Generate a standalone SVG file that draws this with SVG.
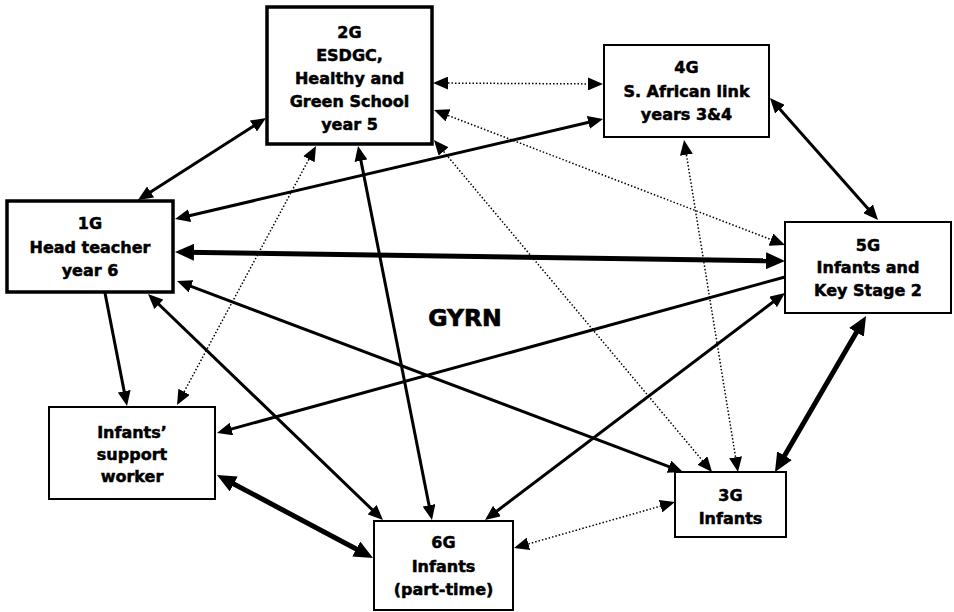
<svg xmlns="http://www.w3.org/2000/svg" width="954" height="612" viewBox="0 0 954 612">
<style>
.box{fill:#fff;stroke:#000;stroke-width:2}
.bold{stroke-width:3.5}
.t{font-family:"DejaVu Sans","Liberation Sans",sans-serif;font-weight:bold;font-size:16px;fill:#000;stroke:#000;stroke-width:0.5;text-anchor:middle}
.big{font-size:23.5px;stroke-width:0.7}
.c{stroke:#000;fill:none;stroke-width:3}
.thick{stroke-width:5}
.dot{stroke-width:1.5;stroke-dasharray:1.5 2}
.a{marker-start:url(#ah);marker-end:url(#ah)}
.e{marker-end:url(#ah)}
.A{marker-start:url(#AH);marker-end:url(#AH)}
</style>
<defs>
<marker id="ah" markerUnits="userSpaceOnUse" markerWidth="15" markerHeight="13" refX="7" refY="6.5" orient="auto-start-reverse"><path d="M0,0 L15,6.5 L0,13 z" fill="#000"/></marker>
<marker id="AH" markerUnits="userSpaceOnUse" markerWidth="19" markerHeight="17" refX="9" refY="8.5" orient="auto-start-reverse"><path d="M0,0 L19,8.5 L0,17 z" fill="#000"/></marker>
</defs>
<rect width="954" height="612" fill="#fff"/>
<g id="connectors">
<line class="c a" x1="144.7" y1="195.7" x2="259.3" y2="122.3"/>
<line class="c a" x1="182.8" y1="217.2" x2="595.2" y2="120.8"/>
<line class="c thick A" x1="185" y1="252.15" x2="775" y2="260.85"/>
<line class="c a" x1="184.5" y1="283.8" x2="675.5" y2="469.2"/>
<line class="c e" x1="105" y1="293" x2="125.5" y2="398.1"/>
<line class="c a" x1="153.8" y1="299.5" x2="377.2" y2="514.5"/>
<line class="c a" x1="359.6" y1="153.9" x2="430.4" y2="512.2"/>
<line class="c dot a" x1="441" y1="83.05" x2="595" y2="83.95"/>
<line class="c dot a" x1="441.5" y1="112.9" x2="777.5" y2="242.1"/>
<line class="c dot a" x1="439.1" y1="146.1" x2="706.9" y2="465.9"/>
<line class="c dot a" x1="312.2" y1="153.05" x2="180.8" y2="397.95"/>
<line class="c a" x1="775.3" y1="104" x2="872.7" y2="214"/>
<line class="c dot a" x1="685.3" y1="147.9" x2="736.7" y2="464.1"/>
<line class="c e" x1="785" y1="277" x2="224.7" y2="430.9"/>
<line class="c a" x1="778.6" y1="297.8" x2="491.4" y2="515.2"/>
<line class="c thick A" x1="861" y1="324.6" x2="780" y2="463.4"/>
<line class="c thick A" x1="225.8" y1="479.7" x2="364.2" y2="553.3"/>
<line class="c dot a" x1="521.7" y1="545.8" x2="667.3" y2="504.2"/>
</g>
<g id="n2G"><rect class="box bold" x="267" y="7" width="165" height="137"/>
<text class="t" x="349.5" y="38">2G</text><text class="t" x="349.5" y="61">ESDGC,</text><text class="t" x="349.5" y="84">Healthy and</text><text class="t" x="349.5" y="107">Green School</text><text class="t" x="349.5" y="130">year 5</text></g>
<g id="n4G"><rect class="box" x="604" y="45" width="165" height="92"/>
<text class="t" x="686.5" y="73">4G</text><text class="t" x="686.5" y="97">S. African link</text><text class="t" x="686.5" y="120">years 3&amp;4</text></g>
<g id="n1G"><rect class="box bold" x="7" y="201" width="166" height="91"/>
<text class="t" x="90" y="229">1G</text><text class="t" x="90" y="253">Head teacher</text><text class="t" x="90" y="276">year 6</text></g>
<g id="n5G"><rect class="box" x="785" y="222" width="166" height="91"/>
<text class="t" x="868" y="251">5G</text><text class="t" x="868" y="273">Infants and</text><text class="t" x="868" y="296">Key Stage 2</text></g>
<g id="nSW"><rect class="box" x="49" y="407" width="166" height="92"/>
<text class="t" x="132" y="438">Infants’</text><text class="t" x="132" y="460">support</text><text class="t" x="132" y="482">worker</text></g>
<g id="n6G"><rect class="box" x="374" y="521" width="139" height="89"/>
<text class="t" x="443.5" y="548">6G</text><text class="t" x="443.5" y="572">Infants</text><text class="t" x="443.5" y="595">(part-time)</text></g>
<g id="n3G"><rect class="box" x="675" y="472" width="111" height="65"/>
<text class="t" x="730.5" y="501">3G</text><text class="t" x="730.5" y="524">Infants</text></g>
<g id="label"><text class="t big" x="465" y="326">GYRN</text></g>
</svg>
